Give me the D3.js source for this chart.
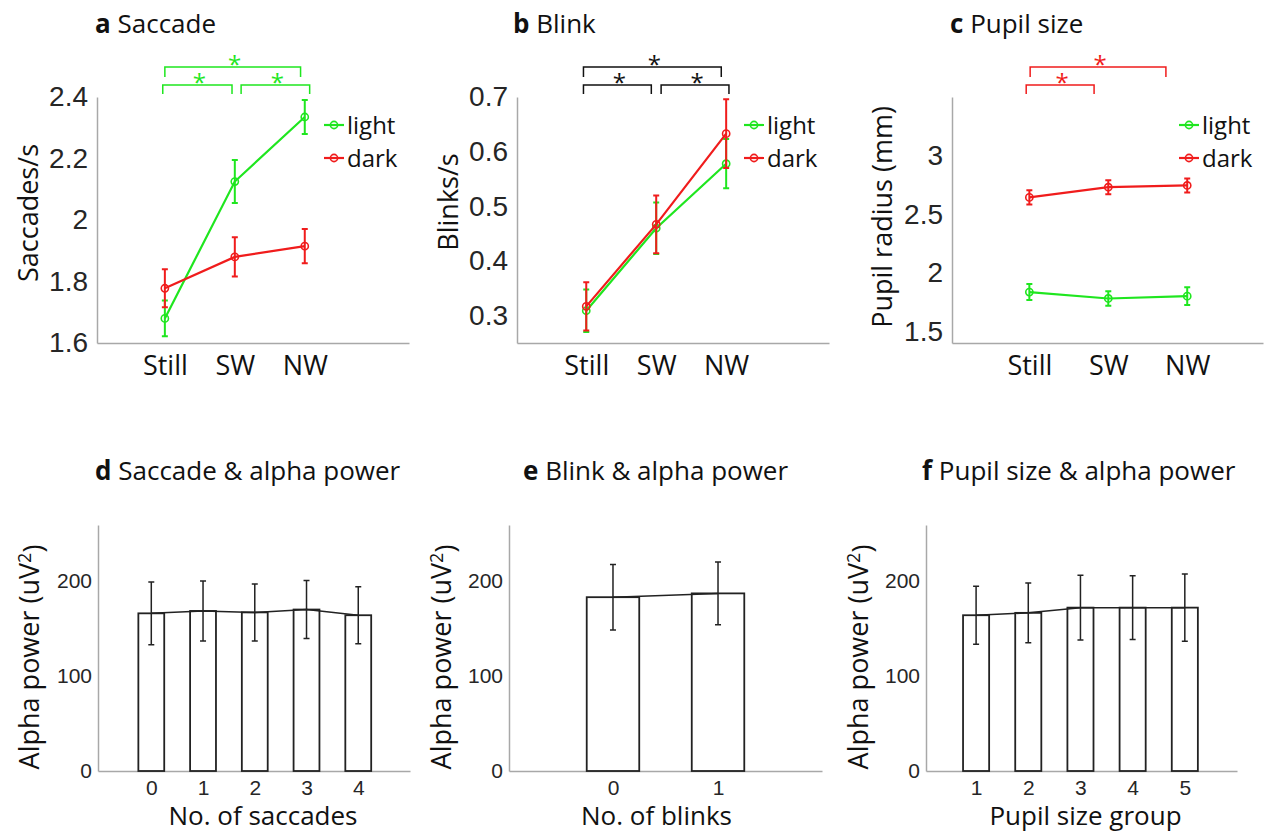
<!DOCTYPE html>
<html>
<head>
<meta charset="utf-8">
<script src="https://cdn.jsdelivr.net/npm/d3@7"></script>
<style>
body { margin: 0; background: #ffffff; }
svg text { font-family: "Open Sans", sans-serif; fill: #111; }
.tick text { font-family: "Liberation Sans", Arial, sans-serif; fill: #262626; }
</style>
</head>
<body>
<div id="canvasArea"></div>
<script>
// ---- data ----
var conditions = ["Still", "SW", "NW"];

var saccade_light = [1.68, 2.125, 2.335];
var saccade_light_err = [0.058, 0.07, 0.055];
var saccade_dark = [1.778, 1.88, 1.915];
var saccade_dark_err = [0.062, 0.064, 0.056];
var saccade_ticks = [1.6, 1.8, 2, 2.2, 2.4];

var blink_light = [0.309, 0.46, 0.578];
var blink_light_err = [0.039, 0.047, 0.045];
var blink_dark = [0.317, 0.467, 0.633];
var blink_dark_err = [0.044, 0.053, 0.063];
var blink_ticks = [0.3, 0.4, 0.5, 0.6, 0.7];

var pupil_light = [1.835, 1.78, 1.8];
var pupil_light_err = [0.068, 0.062, 0.075];
var pupil_dark = [2.643, 2.73, 2.745];
var pupil_dark_err = [0.06, 0.06, 0.06];
var pupil_ticks = [1.5, 2, 2.5, 3];

// significance brackets: [from, to, level] in x data units
var saccade_sig = [[0.97, 1.96, 0], [2.09, 3.07, 0], [1.0, 2.94, 1]];
var blink_sig = [[0.96, 1.93, 0], [2.07, 3.04, 0], [0.96, 2.93, 1]];
var pupil_sig = [[0.96, 1.82, 0], [1.01, 2.73, 1]];

var saccade_counts = [0, 1, 2, 3, 4];
var saccade_alpha = [166, 168.5, 167, 170, 164];
var saccade_alpha_err = [33, 31.5, 30, 30.5, 30];

var blink_counts = [0, 1];
var blink_alpha = [183, 187];
var blink_alpha_err = [34.5, 33];

var pupil_groups = [1, 2, 3, 4, 5];
var pupil_alpha = [164, 166.5, 172, 172, 172];
var pupil_alpha_err = [30.5, 31.5, 34, 33.5, 35.5];

var alpha_ticks = [0, 100, 200];

var green = "#1fe61f",
	red = "#f01c1c";

var svg = d3.select("#canvasArea").append("svg")
	.attr("width", 1272)
	.attr("height", 834);

function styleAxis(g) {
	g.select(".domain").attr("stroke", "#a8a8a8").attr("stroke-width", 1.5);
	g.selectAll(".tick line").remove();
}

function drawTitle(x, y, letter, text) {
	var t = svg.append("text")
		.attr("x", x)
		.attr("y", y)
		.style("font-size", "26px");
	t.append("tspan").style("font-weight", "bold").text(letter + " ");
	t.append("tspan").text(text);
}

function drawYLabel(x, y, text, sup) {
	var t = svg.append("text")
		.attr("transform", "translate(" + x + "," + y + ") rotate(-90)")
		.attr("text-anchor", "middle")
		.style("font-size", "27px");
	t.append("tspan").text(text);
	if (sup) {
		t.append("tspan").attr("dy", "-0.45em").style("font-size", "18px").text(sup);
		t.append("tspan").attr("dy", "0.45em").text(")");
	}
}

function linePanel(p) {
	var x = d3.scaleLinear().domain(p.xdom).range([p.left, p.right]);
	var y = d3.scaleLinear().domain(p.ydom).range([343, 97]);

	var gy = svg.append("g")
		.attr("transform", "translate(" + p.left + ",0)")
		.call(d3.axisLeft(y).tickValues(p.ticks).tickSize(0).tickSizeOuter(0).tickPadding(9).tickFormat(function(d) { return String(d); }));
	gy.selectAll(".tick text").style("font-size", "28px");
	styleAxis(gy);

	var gx = svg.append("g")
		.attr("transform", "translate(0,343)")
		.call(d3.axisBottom(x).tickValues([1, 2, 3]).tickSize(0).tickSizeOuter(0).tickPadding(13).tickFormat(function(d) { return conditions[d - 1]; }));
	gx.selectAll(".tick text")
		.style("font-family", "'Open Sans', sans-serif")
		.style("fill", "#111")
		.style("font-size", "27px");
	styleAxis(gx);

	var line = d3.line()
		.x(function(d, i) { return x(i + 1); })
		.y(function(d) { return y(d); });

	p.series.forEach(function(s) {
		var g = svg.append("g");
		g.append("path")
			.attr("d", line(s.values))
			.attr("fill", "none")
			.attr("stroke", s.color)
			.attr("stroke-width", 2.2);
		s.values.forEach(function(v, i) {
			var cx = x(i + 1),
				lo = y(v - s.err[i]),
				hi = y(v + s.err[i]);
			g.append("path")
				.attr("d", "M" + cx + "," + lo + "V" + hi + "M" + (cx - 3) + "," + lo + "H" + (cx + 3) + "M" + (cx - 3) + "," + hi + "H" + (cx + 3))
				.attr("stroke", s.color)
				.attr("stroke-width", 2)
				.attr("fill", "none");
			g.append("circle")
				.attr("cx", cx)
				.attr("cy", y(v))
				.attr("r", 3.6)
				.attr("fill", "none")
				.attr("stroke", s.color)
				.attr("stroke-width", 1.6);
		});
	});

	// legend
	p.series.forEach(function(s, i) {
		var ly = 125 + i * 33;
		svg.append("line")
			.attr("x1", p.legendX - 20).attr("x2", p.legendX)
			.attr("y1", ly).attr("y2", ly)
			.attr("stroke", s.color).attr("stroke-width", 2.2);
		svg.append("circle")
			.attr("cx", p.legendX - 10).attr("cy", ly).attr("r", 3.6)
			.attr("fill", "none").attr("stroke", s.color).attr("stroke-width", 1.6);
		svg.append("text")
			.attr("x", p.legendX + 3)
			.attr("y", ly)
			.attr("dy", "0.36em")
			.style("font-size", "24px")
			.text(s.name);
	});

	// significance brackets
	p.sig.forEach(function(b) {
		var top = b[2] ? 67 : 85,
			foot = b[2] ? 77 : 94,
			x1 = x(b[0]), x2 = x(b[1]);
		svg.append("path")
			.attr("d", "M" + x1 + "," + foot + "V" + top + "H" + x2 + "V" + foot)
			.attr("fill", "none")
			.attr("stroke", p.sigColor)
			.attr("stroke-width", 1.5);
		svg.append("text")
			.attr("x", (x1 + x2) / 2 + 2)
			.attr("y", top + 6)
			.attr("text-anchor", "middle")
			.style("font-size", "24px")
			.style("fill", p.sigColor)
			.text("*");
	});

	drawTitle(p.titleX, 33, p.letter, p.title);
	drawYLabel(p.labelX, p.labelY, p.ylabel);
}

function barPanel(p) {
	var x = d3.scaleLinear().domain(p.xdom).range([p.left, p.right]);
	var y = d3.scaleLinear().domain([0, 259]).range([771, 525]);
	var bw = x(0.5) - x(0);

	var gy = svg.append("g")
		.attr("transform", "translate(" + p.left + ",0)")
		.call(d3.axisLeft(y).tickValues(alpha_ticks).tickSize(0).tickSizeOuter(0).tickPadding(6));
	gy.selectAll(".tick text").style("font-size", "21px");
	styleAxis(gy);

	var gx = svg.append("g")
		.attr("transform", "translate(0,771)")
		.call(d3.axisBottom(x).tickValues(p.cats).tickSize(0).tickSizeOuter(0).tickPadding(9).tickFormat(d3.format("d")));
	gx.selectAll(".tick text").style("font-size", "21px");
	styleAxis(gx);

	svg.append("g").selectAll("rect")
		.data(p.values)
		.enter().append("rect")
		.attr("x", function(d, i) { return x(p.cats[i]) - bw / 2; })
		.attr("y", function(d) { return y(d); })
		.attr("width", bw)
		.attr("height", function(d) { return y(0) - y(d); })
		.attr("fill", "#ffffff")
		.attr("stroke", "#222")
		.attr("stroke-width", 1.8);

	var line = d3.line()
		.x(function(d, i) { return x(p.cats[i]); })
		.y(function(d) { return y(d); });
	svg.append("path")
		.attr("d", line(p.values))
		.attr("fill", "none")
		.attr("stroke", "#222")
		.attr("stroke-width", 1.5);

	p.values.forEach(function(v, i) {
		var cx = x(p.cats[i]),
			lo = y(v - p.err[i]),
			hi = y(v + p.err[i]);
		svg.append("path")
			.attr("d", "M" + cx + "," + lo + "V" + hi + "M" + (cx - 3) + "," + lo + "H" + (cx + 3) + "M" + (cx - 3) + "," + hi + "H" + (cx + 3))
			.attr("stroke", "#222")
			.attr("stroke-width", 1.5)
			.attr("fill", "none");
	});

	svg.append("text")
		.attr("x", (p.left + p.right) / 2 + p.xlabelShift)
		.attr("y", 825)
		.attr("text-anchor", "middle")
		.style("font-size", "26px")
		.text(p.xlabel);

	drawTitle(p.titleX, 480, p.letter, p.title);
	drawYLabel(p.labelX, 657, "Alpha power (uV", "2");
}

linePanel({
	left: 97, right: 409, xdom: [0.03, 4.49], ydom: [1.6, 2.4], ticks: saccade_ticks,
	series: [
		{ name: "light", color: green, values: saccade_light, err: saccade_light_err },
		{ name: "dark", color: red, values: saccade_dark, err: saccade_dark_err }
	],
	legendX: 344, sig: saccade_sig, sigColor: green,
	titleX: 95, letter: "a", title: "Saccade",
	ylabel: "Saccades/s", labelX: 38, labelY: 213
});

linePanel({
	left: 517, right: 829, xdom: [0.01, 4.47], ydom: [0.25, 0.7], ticks: blink_ticks,
	series: [
		{ name: "light", color: green, values: blink_light, err: blink_light_err },
		{ name: "dark", color: red, values: blink_dark, err: blink_dark_err }
	],
	legendX: 764, sig: blink_sig, sigColor: "#111",
	titleX: 513, letter: "b", title: "Blink",
	ylabel: "Blinks/s", labelX: 458, labelY: 202
});

linePanel({
	left: 952, right: 1263, xdom: [0.02, 3.96], ydom: [1.4, 3.5], ticks: pupil_ticks,
	series: [
		{ name: "light", color: green, values: pupil_light, err: pupil_light_err },
		{ name: "dark", color: red, values: pupil_dark, err: pupil_dark_err }
	],
	legendX: 1199, sig: pupil_sig, sigColor: red,
	titleX: 950, letter: "c", title: "Pupil size",
	ylabel: "Pupil radius (mm)", labelX: 892, labelY: 217
});

barPanel({
	left: 98, right: 410, xdom: [-1.03, 5], cats: saccade_counts,
	values: saccade_alpha, err: saccade_alpha_err,
	xlabel: "No. of saccades", xlabelShift: 9,
	titleX: 95, letter: "d", title: "Saccade & alpha power", labelX: 39
});

barPanel({
	left: 509, right: 822, xdom: [-0.99, 1.99], cats: blink_counts,
	values: blink_alpha, err: blink_alpha_err,
	xlabel: "No. of blinks", xlabelShift: -9,
	titleX: 523, letter: "e", title: "Blink & alpha power", labelX: 451
});

barPanel({
	left: 926, right: 1237, xdom: [0.04, 6], cats: pupil_groups,
	values: pupil_alpha, err: pupil_alpha_err,
	xlabel: "Pupil size group", xlabelShift: 4,
	titleX: 922, letter: "f", title: "Pupil size & alpha power", labelX: 868
});
</script>
</body>
</html>
